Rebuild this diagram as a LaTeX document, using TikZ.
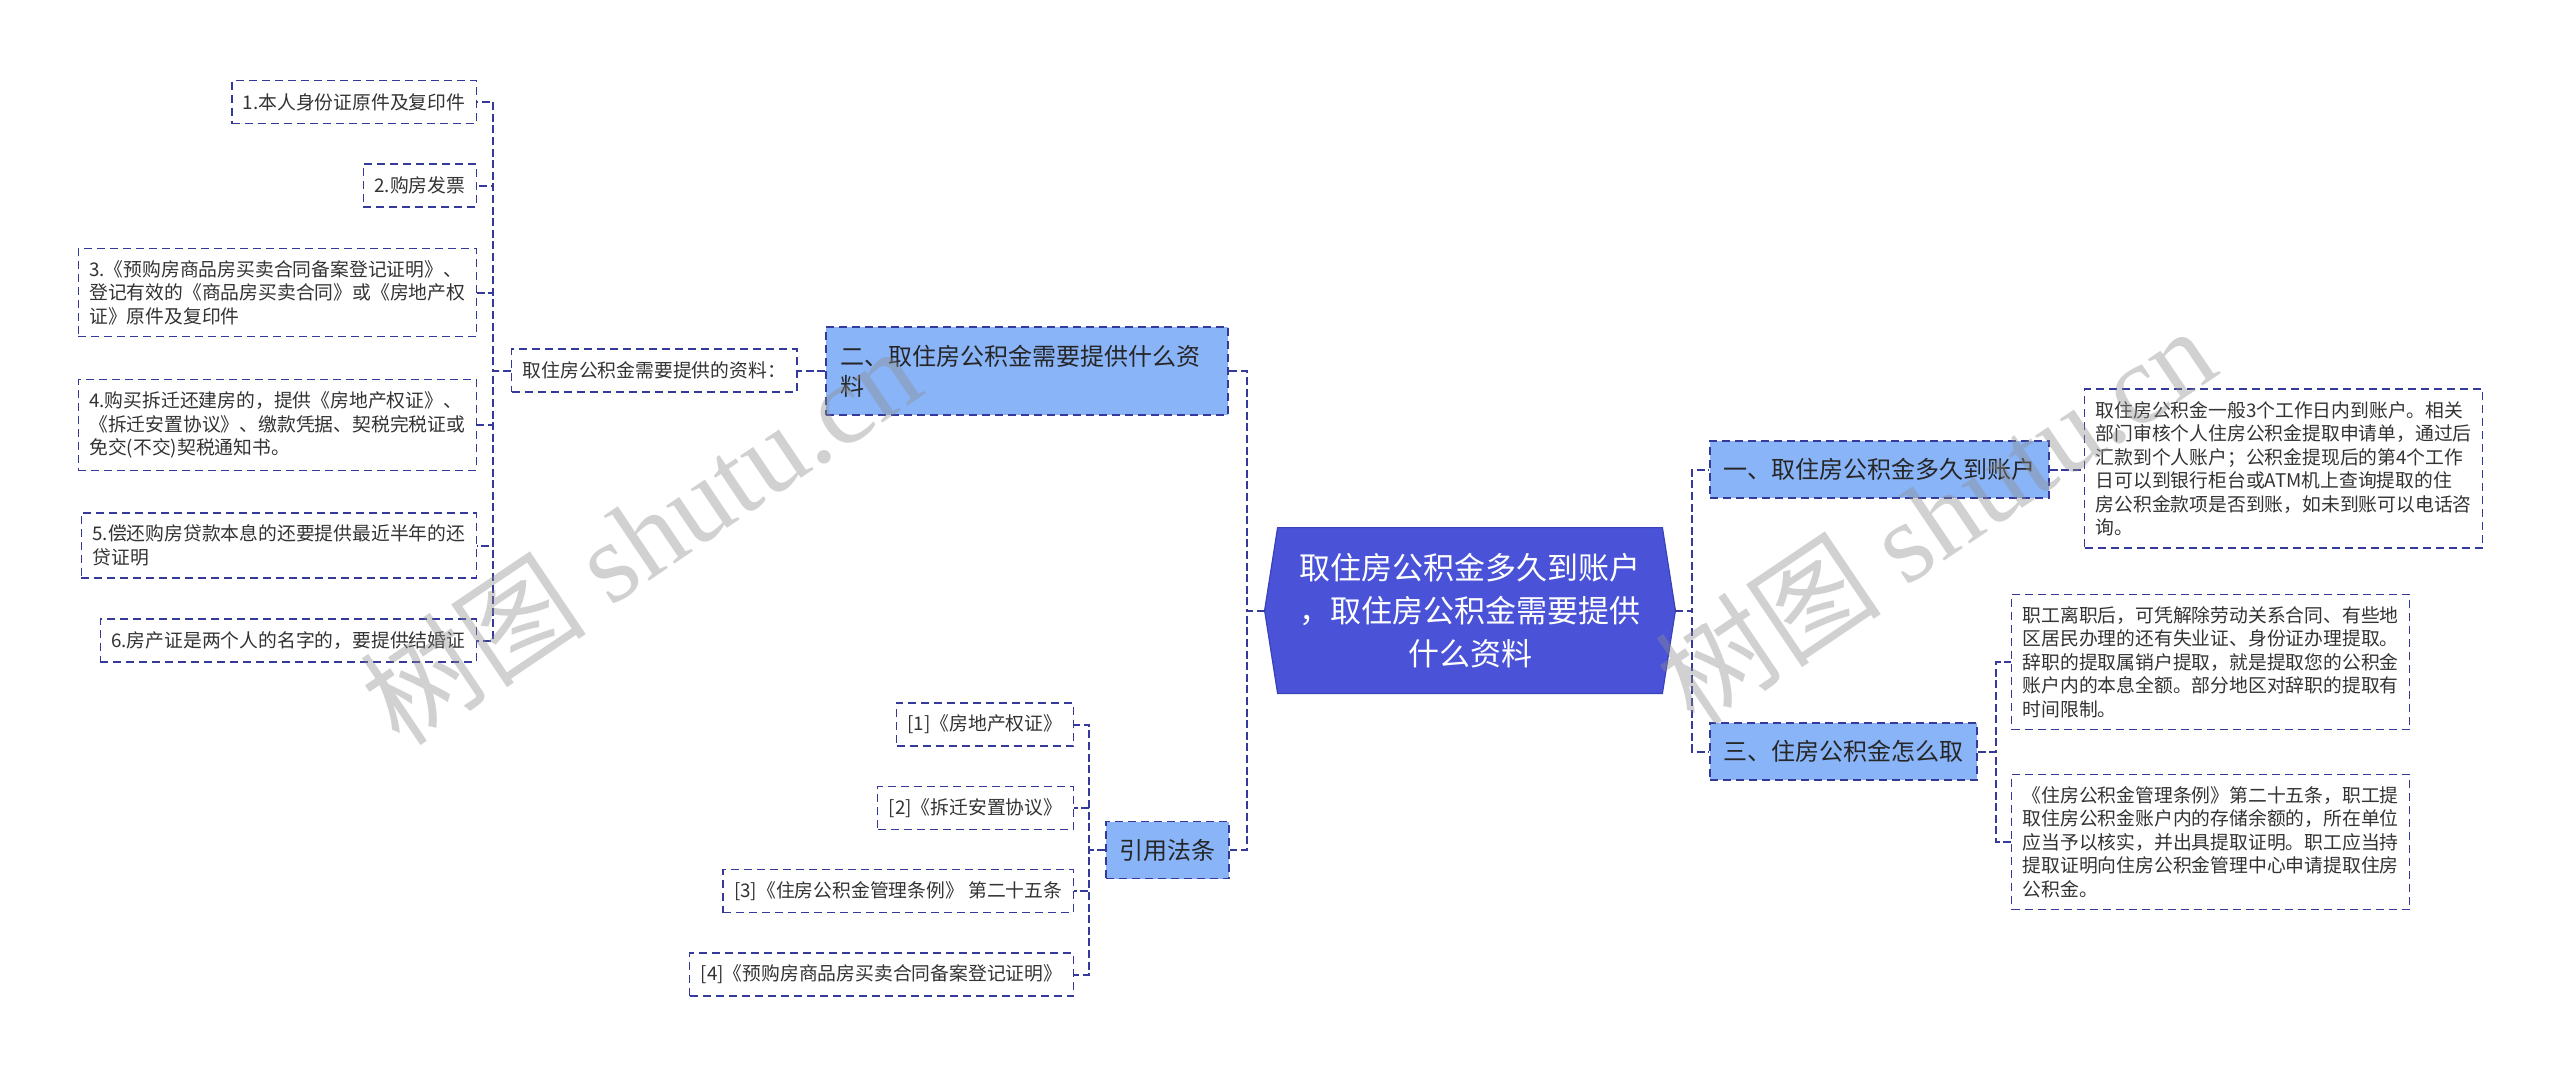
\documentclass[tikz,border=0pt]{standalone}
\usepackage{fontspec}
\setmainfont{Noto Sans CJK SC}
\newfontfamily\wmfont{Liberation Serif}
\usepackage{xcolor}
\usepackage{tikz}
\usetikzlibrary{positioning}
\usetikzlibrary{backgrounds}

\definecolor{navy}{HTML}{34399A}
\definecolor{rootblue}{HTML}{4A53D8}
\definecolor{rootedge}{HTML}{3A42B8}
\definecolor{topicblue}{HTML}{8AB4F8}
\definecolor{ink}{HTML}{333333}

\begin{document}
\begin{tikzpicture}[x=0.5pt, y=-0.5pt,
    link/.style={draw=navy, line width=1pt, dash pattern=on 4pt off 1.8pt},
    leaf/.style={draw=navy, line width=0.7pt, dash pattern=on 4pt off 2.5pt,
        fill=white, align=left, text=ink, inner xsep=5.5pt, inner ysep=6pt,
        minimum height=21.5pt, font=\fontsize{9.4}{11.75}\selectfont},
    topic/.style={draw=navy, line width=0.8pt, dash pattern=on 4pt off 2.5pt,
        fill=topicblue, align=left, text=black!85, inner xsep=6.75pt,
        minimum height=28.5pt, font=\fontsize{12}{15}\selectfont},
    rootnode/.style={minimum width=205pt, minimum height=82.5pt, inner sep=0pt,
        align=center, text=white, font=\fontsize{15.5}{21.5}\selectfont},
    wmark/.style={rotate=34, text=black!45, opacity=0.4,
        font=\fontsize{57}{57}\selectfont}
  ]
    \useasboundingbox (0,0) rectangle (2560,1077);

    % centre
    \node [rootnode] (root) at (1470,610.5) {取住房公积金多久到账户\\，取住房公积金需要提供\\什么资料};

    % first level
    \node [topic, anchor=west] (q1) at (1709,469.5) {一、取住房公积金多久到账户};
    \node [topic, anchor=west] (q3) at (1709,751.5) {三、住房公积金怎么取};
    \node [topic, anchor=east, text width=187pt, inner xsep=7pt, minimum height=44pt] (q2) at (1229,371) {二、取住房公积金需要提供什么资\\料};
    \node [topic, anchor=east] (law) at (1230,850) {引用法条};

    % right leaves
    \node [leaf, anchor=west] (t1) at (2084,468.5) {取住房公积金一般3个工作日内到账户。相关\\部门审核个人住房公积金提取申请单，通过后\\汇款到个人账户；公积金提现后的第4个工作\\日可以到银行柜台或ATM机上查询提取的住\\房公积金款项是否到账，如未到账可以电话咨\\询。};
    \node [leaf, anchor=west] (t3a) at (2011,662) {职工离职后，可凭解除劳动关系合同、有些地\\区居民办理的还有失业证、身份证办理提取。\\辞职的提取属销户提取，就是提取您的公积金\\账户内的本息全额。部分地区对辞职的提取有\\时间限制。};
    \node [leaf, anchor=west] (t3b) at (2011,842) {《住房公积金管理条例》第二十五条，职工提\\取住房公积金账户内的存储余额的，所在单位\\应当予以核实，并出具提取证明。职工应当持\\提取证明向住房公积金管理中心申请提取住房\\公积金。};

    % left leaves
    \node [leaf, anchor=west] (lst) at (511,370.5) {取住房公积金需要提供的资料：};
    \node [leaf, anchor=east] (d1) at (477,102) {1.本人身份证原件及复印件};
    \node [leaf, anchor=east] (d2) at (477,185.5) {2.购房发票};
    \node [leaf, anchor=east] (d3) at (477,292.5) {3.《预购房商品房买卖合同备案登记证明》、\\登记有效的《商品房买卖合同》或《房地产权\\证》原件及复印件};
    \node [leaf, anchor=east] (d4) at (477,425) {4.购买拆迁还建房的，提供《房地产权证》、\\《拆迁安置协议》、缴款凭据、契税完税证或\\免交(不交)契税通知书。};
    \node [leaf, anchor=east] (d5) at (477,545.5) {5.偿还购房贷款本息的还要提供最近半年的还\\贷证明};
    \node [leaf, anchor=east] (d6) at (477,640.5) {6.房产证是两个人的名字的，要提供结婚证};

    \node [leaf, anchor=east] (r1) at (1074,724.5) {[1]《房地产权证》};
    \node [leaf, anchor=east] (r2) at (1074,808) {[2]《拆迁安置协议》};
    \node [leaf, anchor=east] (r3) at (1074,891) {[3]《住房公积金管理条例》 第二十五条};
    \node [leaf, anchor=east] (r4) at (1074,974.5) {[4]《预购房商品房买卖合同备案登记证明》};

    \begin{scope}[on background layer]
      \fill [white] (0,0) rectangle (2560,1077);
      \filldraw [fill=rootblue, draw=rootedge, line width=0.6pt]
        (root.west) -- ([xshift=6.5pt]root.north west) -- ([xshift=-6.5pt]root.north east)
        -- (root.east) -- ([xshift=-6.5pt]root.south east) -- ([xshift=6.5pt]root.south west) -- cycle;
    \end{scope}

    % connectors
    \foreach \c in {q1,q3}
      \draw [link] (root.east) -- ++(17,0) |- (\c.west);
    \foreach \c in {q2,law}
      \draw [link] (root.west) -- ++(-18,0) |- (\c.east);
    \draw [link] (q1.east) -- (q1.east -| t1.west);
    \foreach \c in {t3a,t3b}
      \draw [link] (q3.east) -- ++(18,0) |- (\c.west);
    \draw [link] (q2.west) -- (q2.west -| lst.east);
    \foreach \c in {d1,d2,d3,d4,d5,d6}
      \draw [link] (lst.west) -- ++(-18,0) |- (\c.east);
    \foreach \c in {r1,r2,r3,r4}
      \draw [link] (law.west) -- ++(-16,0) |- (\c.east);

    % watermarks
    \node [wmark] (wm1) at (640,535) {树图 {\wmfont shutu.cn}};
    \node [wmark] (wm2) at (1935,515) {树图 {\wmfont shutu.cn}};

  \end{tikzpicture}
\end{document}
